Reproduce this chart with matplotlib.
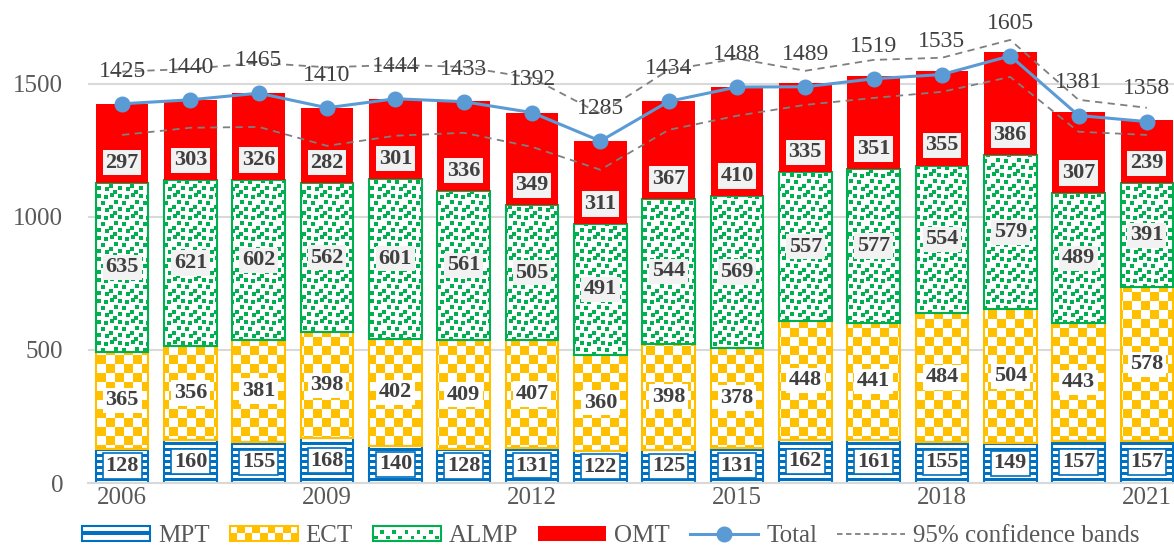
import numpy as np
import matplotlib
matplotlib.use("Agg")
import matplotlib.pyplot as plt
from matplotlib.path import Path
from matplotlib.patches import Rectangle
from matplotlib.lines import Line2D
from matplotlib.legend_handler import HandlerBase
from matplotlib.colors import to_rgb

plt.rcParams['font.family'] = ['Liberation Serif', 'DejaVu Serif']

# data
years = list(range(2006, 2022))
mpt = [128, 160, 155, 168, 140, 128, 131, 122, 125, 131, 162, 161, 155, 149, 157, 157]
ect = [365, 356, 381, 398, 402, 409, 407, 360, 398, 378, 448, 441, 484, 504, 443, 578]
almp = [635, 621, 602, 562, 601, 561, 505, 491, 544, 569, 557, 577, 554, 579, 489, 391]
omt = [297, 303, 326, 282, 301, 336, 349, 311, 367, 410, 335, 351, 355, 386, 307, 239]
total = [1425, 1440, 1465, 1410, 1444, 1433, 1392, 1285, 1434, 1488, 1489, 1519, 1535, 1605, 1381, 1358]
band_hi = [1546, 1556, 1579, 1562, 1571, 1564, 1522, 1388, 1552, 1595, 1549, 1590, 1598, 1665, 1440, 1410]
band_lo = [1308, 1335, 1338, 1267, 1305, 1316, 1263, 1177, 1327, 1380, 1421, 1447, 1470, 1526, 1320, 1308]

BLUE = '#0070C0'
YELLOW = '#FFC000'
GREEN = '#00B050'
RED = '#FF0000'
LINE = '#5B9BD5'
BAND = '#7F7F7F'
TXT = '#404040'
AXT = '#595959'

# confetti tile (21x21 px, 4x4 squares at hand-picked spots)
CONF_TILE = 21
CONF_POS = [(0, 1), (1, 9), (2, 16), (7, 5), (8, 13), (12, 0), (14, 9), (15, 17), (18, 4)]


def pattern_image(kind, color, h, w):
    yy, xx = np.mgrid[0:h, 0:w]
    if kind == 'stripes':
        mask = (yy % 6) < 3
    elif kind == 'checker':
        mask = ((yy // 9 + xx // 9) % 2) == 0
    else:
        n = CONF_TILE
        tile = np.zeros((n, n), dtype=bool)
        for r, c in CONF_POS:
            for i in range(4):
                for j in range(4):
                    tile[(r + i) % n, (c + j) % n] = True
        mask = tile[yy % n, xx % n]
    img = np.ones((h, w, 3))
    img[mask] = to_rgb(color)
    return img


class PatternHandler(HandlerBase):
    def __init__(self, kind, color):
        super().__init__()
        self.kind = kind
        self.color = color

    def create_artists(self, legend, orig_handle, xdescent, ydescent,
                       width, height, fontsize, trans):
        x0, y0 = -xdescent, -ydescent
        arts = [Rectangle((x0, y0), width, height, fc='white', ec='none', transform=trans)]
        if self.kind == 'stripes':
            s = height * 0.28
            arts.append(Rectangle((x0, y0 + height / 2 - s / 2), width, s,
                                  fc=self.color, ec='none', transform=trans))
        elif self.kind == 'checker':
            cell = height / 2
            n = int(width / cell) + 1
            for i in range(n):
                for j in range(2):
                    if (i + j) % 2 == 0:
                        cw = min(cell, width - i * cell)
                        if cw > 0:
                            arts.append(Rectangle((x0 + i * cell, y0 + j * cell), cw, cell,
                                                  fc=self.color, ec='none', transform=trans))
        else:
            sq = 2.6
            step = 4.4
            n = int(width / step)
            for i in range(n):
                for j in range(2):
                    if (i + j) % 2 == 0:
                        arts.append(Rectangle((x0 + i * step + 0.8, y0 + 1.0 + j * 3.8), sq, sq,
                                              fc=self.color, ec='none', transform=trans))
        arts.append(Rectangle((x0, y0), width, height, fc='none', ec=self.color,
                              lw=1.5, transform=trans))
        return arts


fig = plt.figure(figsize=(11.74, 5.46), dpi=100)
ax = fig.add_axes([88 / 1174, 63 / 546, 1093 / 1174, 479 / 546])

x = np.arange(len(years))
bw = 0.77
XL = (-0.5, len(years) - 0.5)
YL = (0, 1800)
ax.set_xlim(*XL)
ax.set_ylim(*YL)

h_px = int(round(ax.bbox.height))
w_px = int(round(ax.bbox.width))

series = [
    ('MPT', mpt, BLUE, 'stripes'),
    ('ECT', ect, YELLOW, 'checker'),
    ('ALMP', almp, GREEN, 'confetti'),
]

bottom = np.zeros(len(years))
for name, vals, col, kind in series:
    vals = np.array(vals, dtype=float)
    bars = ax.bar(x, vals, bw, bottom=bottom, facecolor='none', edgecolor=col,
                  linewidth=1.5, zorder=2.5)
    paths = [b.get_path().transformed(b.get_patch_transform()) for b in bars]
    clip = Path.make_compound_path(*paths)
    img = ax.imshow(pattern_image(kind, col, h_px, w_px), extent=(XL[0], XL[1], YL[0], YL[1]),
                    origin='upper', aspect='auto', interpolation='nearest', zorder=2)
    img.set_clip_path(clip, ax.transData)
    fc = '#F2F2F2' if kind == 'confetti' else 'white'
    ec = BLUE if kind == 'stripes' else 'none'
    for xi, b, v in zip(x, bottom, vals):
        ax.text(xi, b + v / 2, '%d' % v, ha='center', va='center', fontsize=16,
                fontweight='bold', color=TXT, zorder=6,
                bbox=dict(boxstyle='square,pad=0.12', fc=fc, ec=ec, lw=1.2))
    bottom = bottom + vals

omt_v = np.array(omt, dtype=float)
ax.bar(x, omt_v, bw, bottom=bottom, color=RED, edgecolor='none', zorder=2.5)
for xi, b, v in zip(x, bottom, omt_v):
    ax.annotate('%d' % v, (xi, b), xytext=(0, 14.5), textcoords='offset points',
                ha='center', va='center', fontsize=16, fontweight='bold', color=TXT, zorder=6,
                bbox=dict(boxstyle='square,pad=0.12', fc='#F2F2F2', ec='none'))

ax.set_xlim(*XL)
ax.set_ylim(*YL)

# confidence bands and total
ax.plot(x, band_hi, color=BAND, lw=1.3, ls=(0, (4, 3)), zorder=4)
ax.plot(x, band_lo, color=BAND, lw=1.3, ls=(0, (4, 3)), zorder=4)
ax.plot(x, total, color=LINE, lw=2.2, marker='o', ms=10.5, zorder=5)
for xi, t in zip(x, total):
    ax.annotate('%d' % t, (xi, t), xytext=(0, 23.5), textcoords='offset points',
                ha='center', va='center', fontsize=17, color=TXT, zorder=7)

# axes styling
ax.set_yticks([0, 500, 1000, 1500])
ax.set_xticks(x[::3])
ax.set_xticklabels([str(y) for y in years[::3]])
ax.tick_params(axis='y', length=0, pad=18, labelsize=18, labelcolor=AXT)
ax.tick_params(axis='x', length=0, pad=3, labelsize=18, labelcolor=AXT)
ax.yaxis.grid(True, color='#D9D9D9', lw=1.5)
ax.set_axisbelow(True)
for s in ['top', 'right', 'left']:
    ax.spines[s].set_visible(False)
ax.spines['bottom'].set_color('#D9D9D9')
ax.spines['bottom'].set_linewidth(1.5)

# legend
h_mpt = Rectangle((0, 0), 1, 1)
h_ect = Rectangle((0, 0), 1, 1)
h_almp = Rectangle((0, 0), 1, 1)
h_omt = Rectangle((0, 0), 1, 1, fc=RED, ec='none')
h_tot = Line2D([], [], color=LINE, lw=2.2, marker='o', ms=10.5)
h_band = Line2D([], [], color=BAND, lw=1.3, ls=(0, (3, 2)))
fig.legend([h_mpt, h_ect, h_almp, h_omt, h_tot, h_band],
           ['MPT', 'ECT', 'ALMP', 'OMT', 'Total', '95% confidence bands'],
           handler_map={h_mpt: PatternHandler('stripes', BLUE),
                        h_ect: PatternHandler('checker', YELLOW),
                        h_almp: PatternHandler('confetti', GREEN)},
           loc='center left', bbox_to_anchor=(82 / 1174, 10 / 546), ncol=6, frameon=False,
           fontsize=18, labelcolor=AXT, handlelength=2.72, handleheight=0.56,
           handletextpad=0.32, columnspacing=0.8, borderpad=0, borderaxespad=0)

fig.savefig('out.png', dpi=100)
